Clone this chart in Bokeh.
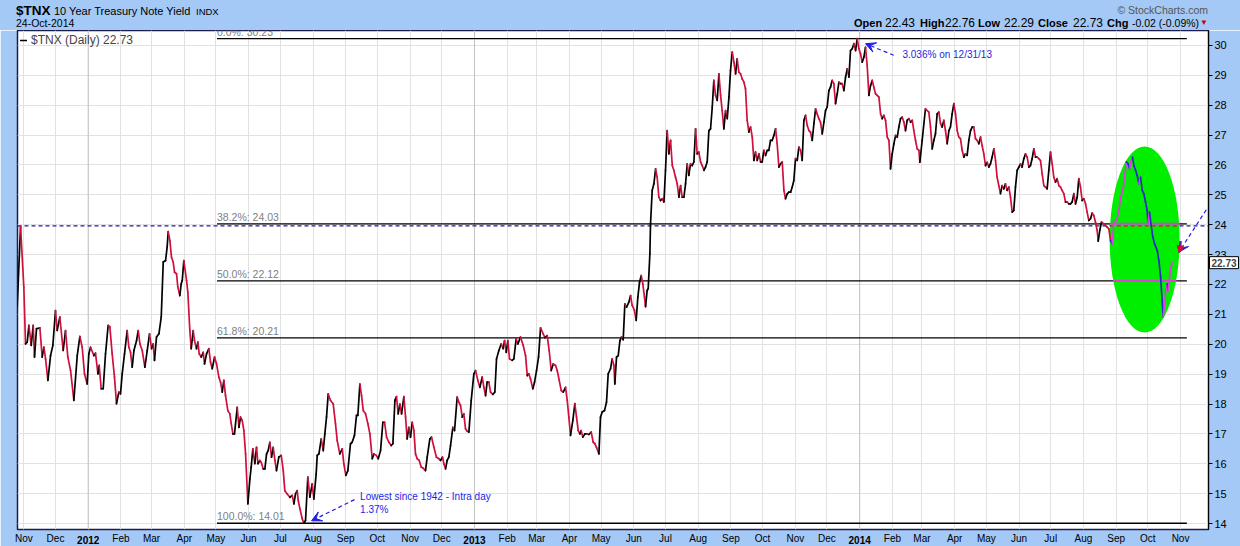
import numpy as np
import pandas as pd
from bokeh.plotting import figure
from bokeh.layouts import column
from bokeh.models import (ColumnDataSource, FixedTicker, Span, Label, Arrow, VeeHead,
                          NormalHead, Legend, LegendItem, Range1d, Div, DatetimeAxis)
from bokeh.core.properties import value
from bokeh.embed import file_html
from bokeh.resources import INLINE

# ---------------- data ----------------
DATE0 = pd.Timestamp("2011-11-01")   # day offsets are counted from this date

days_2011_12 = [-6.3, -3.1, 0.0, 1.6, 3.2, 4.8, 7.0, 8.9, 10.1, 12.0,
                15.2, 17.4, 19.0, 20.6, 22.8, 25.3, 27.5, 30.0, 31.6, 34.1,
                37.3, 39.5, 41.7, 44.3, 47.4, 50.6, 53.1, 55.3, 57.5, 60.0,
                61.6, 63.2, 66.4, 67.9, 70.2, 71.4, 73.3, 75.2, 77.4, 79.9,
                81.5, 83.7, 85.9, 87.8, 90.0, 91.6, 93.2, 95.4, 97.9, 99.5,
                101.1, 102.7, 104.3, 106.8, 108.4, 110.0, 112.2, 114.7, 116.9, 119.1,
                121.0, 122.6, 123.8, 125.7, 128.0, 130.2, 132.1, 134.3, 135.8, 136.8,
                138.4, 139.9, 141.5, 142.8, 144.7, 145.9, 147.8, 149.1, 150.1, 151.6,
                154.2, 155.4, 157.3, 158.6, 160.5, 161.7, 163.6, 164.9, 166.2, 168.1,
                170.0, 171.2, 173.1, 175.3, 176.9, 178.5, 180.7, 182.6, 184.8, 186.4,
                188.0, 189.5, 191.1, 193.3, 195.2, 196.5, 198.1, 199.6, 202.2, 203.8,
                205.3, 206.9, 208.5, 210.1, 212.3, 214.2, 215.4, 217.0, 218.9, 220.5,
                221.8, 223.6, 224.9, 226.8, 228.4, 230.0, 231.5, 233.1, 234.7, 236.3,
                237.9, 239.4, 241.6, 243.9, 245.8, 247.3, 249.6, 252.1, 254.3, 255.9,
                257.4, 259.0, 260.0, 261.6, 263.8, 265.3, 266.9, 269.1, 271.0, 273.2,
                274.8, 277.0, 278.0, 279.6, 281.8, 283.7, 285.2, 286.8, 288.4, 290.6,
                293.1, 295.3, 296.9, 299.4]
tnx_2011_12 = [21.24, 23.94, 21.91, 20.01, 20.07, 20.63, 19.96, 20.63, 19.57, 20.52,
               20.55, 19.57, 19.90, 19.51, 18.79, 19.62, 19.96, 21.13, 20.46, 20.91,
               19.79, 20.46, 19.57, 19.12, 18.12, 19.62, 20.26, 19.90, 19.01, 18.67,
               19.68, 19.90, 19.62, 19.70, 19.01, 19.29, 18.51, 18.51, 19.68, 20.63,
               20.59, 19.68, 18.90, 18.01, 18.40, 18.34, 19.01, 19.68, 20.46, 19.90,
               19.73, 19.23, 19.79, 20.12, 20.46, 20.01, 19.79, 19.23, 19.79, 20.35,
               19.85, 20.01, 19.46, 20.24, 20.35, 20.91, 22.75, 22.80, 23.25, 23.77,
               23.47, 22.91, 22.75, 22.41, 22.36, 21.91, 21.63, 22.02, 22.13, 22.80,
               22.13, 21.74, 20.46, 19.85, 20.46, 20.12, 19.85, 20.07, 19.68, 19.57,
               19.73, 19.34, 19.68, 19.85, 19.40, 19.18, 19.57, 19.34, 18.90, 18.73,
               18.40, 18.79, 18.28, 17.78, 17.67, 17.34, 17.00, 17.00, 17.89, 17.22,
               17.56, 17.45, 17.11, 16.33, 14.66, 15.49, 15.88, 16.50, 16.00, 16.55,
               16.00, 16.11, 16.05, 15.83, 15.83, 16.33, 16.44, 16.72, 16.22, 16.55,
               16.11, 15.77, 16.22, 16.28, 15.77, 15.10, 14.99, 14.88, 14.94, 14.66,
               14.99, 15.10, 14.77, 14.49, 14.16, 14.01, 14.10, 15.55, 14.88, 15.33,
               14.82, 15.66, 16.28, 16.33, 16.83, 16.44, 17.00, 17.56, 18.34, 18.12,
               18.01, 17.34, 16.78, 16.33]

days_2012_13 = [301.7, 303.2, 305.1, 307.0, 309.5, 311.1, 313.3, 315.2, 316.5, 318.4,
                320.0, 321.6, 323.8, 326.0, 327.9, 330.1, 331.7, 333.9, 335.8, 338.0,
                340.2, 341.8, 343.7, 345.9, 348.1, 349.7, 351.6, 353.1, 354.7, 356.3,
                357.9, 360.1, 361.7, 363.2, 364.8, 366.4, 368.0, 369.6, 371.1, 372.7,
                374.6, 376.5, 378.4, 380.6, 382.2, 384.7, 386.3, 388.5, 391.0, 393.3,
                394.8, 396.7, 398.0, 399.6, 401.1, 402.7, 404.3, 406.5, 408.1, 410.6,
                412.2, 413.8, 415.4, 416.9, 418.5, 420.1, 421.7, 423.9, 426.4, 428.0,
                430.2, 432.1, 434.3, 435.9, 437.5, 439.0, 440.6, 442.2, 444.4, 446.3,
                447.9, 450.1, 452.3, 454.2, 455.5, 457.1, 458.6, 460.2, 462.7, 464.3,
                466.5, 468.1, 470.6, 473.2, 475.4, 477.0, 478.5, 480.1, 482.3, 483.9,
                485.8, 487.7, 489.6, 492.1, 493.7, 495.9, 497.8, 499.7, 501.6, 503.8,
                505.4, 507.3, 509.2, 511.1, 513.3, 514.9, 516.4, 518.0, 520.2, 522.1,
                523.7, 525.3, 526.9, 528.1, 529.7, 531.6, 533.8, 535.4, 537.6, 539.5,
                541.1, 542.6, 544.9, 546.4, 548.0, 550.2, 552.1, 553.7, 555.9, 557.5,
                559.1, 560.0, 561.6, 563.2, 564.8, 566.3, 567.9, 569.5, 571.1, 573.3,
                574.9, 576.4, 578.6, 580.2, 581.8, 583.4, 585.0, 586.5, 588.1, 589.1,
                590.6, 591.6, 593.2]
tnx_2012_13 = [16.50, 16.00, 15.61, 15.77, 16.67, 16.72, 16.95, 17.62, 17.62, 18.67,
               18.28, 17.78, 17.67, 17.34, 17.00, 16.17, 16.33, 16.28, 16.17, 16.44,
               17.39, 17.39, 16.89, 16.72, 16.61, 16.67, 18.12, 18.25, 17.67, 18.00,
               17.67, 18.25, 17.56, 16.83, 17.22, 16.89, 17.39, 17.11, 16.33, 16.17,
               16.11, 15.89, 15.85, 15.77, 16.22, 16.83, 16.89, 16.56, 16.22, 16.17,
               16.11, 16.22, 16.00, 15.83, 16.11, 16.22, 16.61, 17.22, 17.11, 18.23,
               18.06, 17.95, 17.56, 17.67, 17.17, 17.09, 17.06, 18.12, 19.01, 19.12,
               18.79, 18.56, 18.90, 18.56, 18.28, 18.73, 18.73, 18.40, 18.32, 18.40,
               19.51, 19.79, 20.01, 19.85, 20.12, 19.73, 20.12, 19.51, 19.46, 19.51,
               20.18, 20.01, 20.24, 19.96, 19.62, 18.95, 19.01, 18.84, 18.51, 18.73,
               19.12, 19.57, 20.55, 20.35, 20.22, 20.29, 19.79, 19.12, 19.34, 19.29,
               19.12, 18.79, 18.45, 18.40, 18.56, 18.12, 17.56, 16.95, 17.45, 18.01,
               17.56, 17.11, 17.00, 17.11, 16.89, 17.00, 17.00, 16.98, 17.06, 16.72,
               16.67, 16.55, 16.33, 17.56, 17.73, 17.78, 18.06, 19.01, 19.18, 19.51,
               19.29, 18.67, 19.57, 19.62, 20.12, 20.24, 20.15, 21.35, 21.24, 21.41,
               21.63, 21.30, 21.13, 20.80, 21.58, 22.08, 22.30, 22.02, 21.58, 21.26,
               21.80, 21.86, 23.03]

days_2013_14 = [593.8, 595.4, 597.0, 598.6, 600.1, 601.7, 603.3, 604.9, 606.5, 608.0,
                609.6, 611.2, 612.8, 614.4, 615.9, 617.5, 619.1, 620.7, 622.3, 623.8,
                625.4, 627.0, 628.6, 630.1, 631.7, 633.3, 634.9, 636.5, 638.0, 639.6,
                641.2, 642.8, 644.4, 645.9, 647.5, 649.1, 650.7, 652.3, 653.8, 655.4,
                657.0, 658.6, 660.2, 661.7, 663.3, 664.9, 666.5, 668.1, 669.6, 671.2,
                672.8, 674.4, 675.9, 677.5, 679.1, 680.7, 682.3, 683.8, 685.4, 687.0,
                688.6, 690.2, 691.7, 693.3, 694.9, 696.5, 698.1, 699.6, 701.2, 702.8,
                704.4, 705.9, 707.5, 709.1, 710.7, 712.3, 713.8, 715.4, 717.0, 718.6,
                720.2, 721.7, 723.3, 724.9, 726.5, 728.1, 729.6, 731.2, 732.8, 734.4,
                736.0, 737.5, 739.1, 740.7, 742.3, 743.9, 745.4, 747.0, 748.6, 750.2,
                751.7, 753.3, 754.9, 756.5, 758.1, 759.6, 761.2, 762.8, 764.4, 765.9,
                767.5, 769.1, 770.7, 772.3, 773.9, 775.4, 777.0, 778.6, 780.2, 781.8,
                783.3, 784.9, 786.5, 788.1, 789.6, 791.2, 792.8, 794.4, 796.0, 797.5,
                799.1, 800.7, 802.3, 803.9, 805.4, 807.0, 808.6, 810.2, 811.8, 813.3,
                814.9, 816.5, 818.1, 819.7, 821.2, 822.8, 824.4, 826.0, 827.6, 829.1,
                830.7, 832.3, 833.9, 835.4, 837.0, 838.6, 840.2, 841.8, 843.3, 844.9,
                846.5, 848.1]
tnx_2013_14 = [24.03, 25.15, 25.37, 25.87, 25.59, 24.92, 24.81, 24.87, 24.76, 25.82,
               27.15, 26.37, 26.82, 25.98, 25.82, 25.59, 25.37, 24.92, 25.31, 24.92,
               24.92, 25.37, 26.04, 25.65, 26.04, 25.98, 26.10, 27.21, 26.37, 26.43,
               26.10, 25.98, 25.82, 25.93, 26.10, 27.15, 27.21, 27.94, 28.83, 28.33,
               28.16, 29.05, 28.33, 27.82, 27.21, 27.82, 27.55, 28.27, 29.16, 29.78,
               29.44, 29.05, 29.55, 29.11, 29.05, 28.88, 28.77, 28.55, 27.49, 27.10,
               27.27, 26.93, 26.15, 26.43, 26.15, 26.37, 26.10, 26.10, 26.49, 26.32,
               26.49, 26.49, 26.82, 26.82, 26.99, 27.21, 26.71, 25.93, 26.04, 26.10,
               25.15, 24.87, 25.03, 25.09, 25.09, 25.26, 25.48, 26.21, 26.15, 26.60,
               26.49, 26.15, 27.49, 27.66, 27.32, 27.15, 27.10, 26.82, 27.38, 27.88,
               27.71, 27.55, 27.43, 27.04, 27.43, 27.82, 27.94, 28.49, 28.61, 28.83,
               28.72, 28.05, 28.38, 28.77, 28.72, 28.72, 28.49, 28.94, 29.22, 28.94,
               29.83, 29.89, 30.06, 29.83, 30.23, 29.89, 29.72, 29.44, 29.61, 29.94,
               29.33, 28.33, 28.66, 28.83, 28.60, 28.38, 28.33, 28.27, 27.71, 27.55,
               27.66, 27.49, 26.93, 26.82, 25.87, 26.37, 26.71, 26.99, 26.93, 27.27,
               27.55, 27.60, 27.43, 27.15, 27.49, 27.55, 27.43, 27.49, 27.15, 26.82,
               26.54, 26.49]

days_2014 = [849.0, 851.2, 854.3, 857.5, 859.1, 860.7, 862.2, 863.8, 865.4, 867.0,
             868.6, 870.1, 871.7, 873.3, 874.9, 876.5, 878.0, 879.6, 881.2, 882.8,
             884.4, 885.9, 887.5, 889.1, 890.7, 892.2, 893.8, 895.4, 897.0, 898.6,
             900.1, 901.7, 903.3, 904.9, 906.5, 908.0, 909.6, 911.2, 912.8, 914.3,
             915.9, 917.5, 919.1, 920.7, 922.2, 923.8, 925.4, 927.0, 928.6, 930.1,
             931.7, 933.3, 934.9, 936.5, 938.0, 939.6, 941.2, 942.8, 944.4, 945.9,
             947.5, 949.1, 950.7, 952.3, 953.8, 955.4, 957.0, 958.6, 960.1, 961.7,
             963.3, 964.9, 966.5, 968.0, 969.6, 971.2, 972.8, 974.4, 975.9, 977.5,
             979.1, 980.7, 982.3, 983.8, 985.4, 987.0, 988.6, 990.2, 991.7, 993.3,
             994.9, 996.5, 998.1, 999.6, 1001.2, 1002.8, 1004.4, 1006.0, 1007.5, 1009.1,
             1010.7, 1012.3, 1013.8, 1015.4, 1017.0, 1018.0, 1019.5, 1021.1, 1023.3, 1024.9,
             1026.5, 1028.1,
             1029.7, 1031.3, 1032.8, 1035.4, 1037.6, 1039.2, 1041.7, 1043.3, 1044.8, 1046.4,
             1047.7, 1049.3, 1050.5, 1051.8, 1053.4, 1054.9, 1056.5, 1058.1, 1059.7, 1061.3,
             1062.8, 1064.4, 1065.1, 1066.6, 1068.2, 1069.8, 1071.4, 1073.9, 1075.5, 1077.1,
             1078.6, 1079.6, 1080.8, 1082.1, 1083.4, 1084.3, 1085.6, 1087.2, 1088.4]
tnx_2014 = [26.09, 26.82, 27.88, 27.77, 27.27, 26.54, 26.82, 27.04, 27.71, 27.77,
            27.38, 27.27, 27.49, 27.15, 26.71, 27.15, 27.27, 27.71, 28.05, 27.71,
            27.15, 26.93, 26.88, 26.49, 26.26, 26.37, 26.32, 26.82, 27.15, 27.27,
            27.27, 26.88, 26.82, 26.71, 26.93, 26.65, 26.37, 25.98, 26.09, 25.93,
            26.04, 26.26, 26.54, 26.15, 25.59, 25.31, 25.04, 25.31, 25.20, 25.37,
            25.15, 25.26, 24.92, 24.42, 24.48, 25.26, 25.82, 25.93, 26.04, 25.93,
            26.21, 26.37, 26.26, 25.93, 25.98, 26.21, 26.54, 26.26, 26.26, 26.21,
            26.15, 25.70, 25.31, 25.26, 25.20, 25.82, 26.43, 26.04, 25.59, 25.43,
            25.54, 25.31, 25.26, 25.15, 25.04, 24.76, 24.76, 24.70, 24.70, 24.76,
            25.04, 24.70, 24.92, 25.54, 25.26, 24.81, 24.87, 24.70, 24.42, 24.14,
            24.20, 24.39, 24.31, 24.09, 23.81, 23.45, 23.81, 24.09, 24.03, 23.97,
            23.92, 23.86,
            23.47, 23.36, 24.09, 24.14, 24.48, 24.92, 25.20, 25.70, 26.10, 26.04,
            25.87, 26.15, 26.26, 25.98, 25.82, 25.65, 25.37, 25.59, 25.15, 25.03,
            24.76, 24.48, 24.09, 24.42, 23.97, 23.58, 23.36, 23.14, 22.80, 22.25,
            21.46, 20.91, 21.35, 21.80, 22.02, 21.80, 22.25, 22.64, 22.73]

fib_pct = ["0.0%", "38.2%", "50.0%", "61.8%", "100.0%"]
fib_level = [30.23, 24.03, 22.12, 20.21, 14.01]
y_ticks = list(range(14, 31))
last_close = 22.73

# ---------------- styling / layout constants ----------------
BG = "#a4c9f6"
RED = "#d0103c"
MAG = "#e03ce0"
DNBLUE = "#2a2ac4"
ANNO = "#1e1ee6"
GREEN = "#00ee00"
FONT = "Liberation Sans"
FW, FH = 1191, 499

def ms(d):
    return (DATE0 + pd.Timedelta(days=d)).value / 1e6

for a, b in [(days_2011_12, tnx_2011_12), (days_2012_13, tnx_2012_13),
             (days_2013_14, tnx_2013_14), (days_2014, tnx_2014)]:
    assert len(a) == len(b), (len(a), len(b))

days = np.array(days_2011_12 + days_2012_13 + days_2013_14 + days_2014)
vals = np.array(tnx_2011_12 + tnx_2012_13 + tnx_2013_14 + tnx_2014)
dates = DATE0 + pd.to_timedelta(days, unit="D")

up = np.diff(vals) >= 0
hl = dates[:-1] >= pd.Timestamp("2014-08-26")
colors = np.where(hl, np.where(up, MAG, DNBLUE), np.where(up, "black", RED))
seg = ColumnDataSource(dict(x0=dates[:-1], x1=dates[1:], y0=vals[:-1], y1=vals[1:], c=colors))

p = figure(frame_width=FW, frame_height=FH, x_axis_type="datetime", y_axis_location="right",
           x_range=Range1d(pd.Timestamp("2011-10-26"), pd.Timestamp("2014-11-27 12:00")),
           y_range=Range1d(13.80, 30.50),
           output_backend="svg", toolbar_location=None,
           min_border_left=17, min_border_right=32, min_border_top=0, min_border_bottom=17,
           border_fill_color=BG, background_fill_color="white",
           outline_line_color="#1d1d4d", outline_line_width=1.5)

# month axis (January left blank, the year axis below fills it in bold)
month_ticks = pd.date_range("2011-11-01", "2014-11-01", freq="MS")
tick_ms = [int(t.value // 10**6) for t in month_ticks]
p.xaxis.ticker = FixedTicker(ticks=tick_ms, minor_ticks=[])
p.xaxis.major_label_overrides = {m: ("" if t.month == 1 else t.strftime("%b"))
                                 for m, t in zip(tick_ms, month_ticks)}
ax = p.xaxis[0]
ax.axis_line_color = None
ax.major_tick_out = 0
ax.major_tick_in = 0
ax.minor_tick_out = 0
ax.major_label_standoff = 3
ax.major_label_text_font = FONT
ax.major_label_text_font_size = "10px"
ax.major_label_text_color = "black"

year_ticks = [int(t.value // 10**6) for t in month_ticks if t.month == 1]
yr_axis = DatetimeAxis(ticker=FixedTicker(ticks=year_ticks, minor_ticks=[]),
                       major_label_overrides={m: str(pd.Timestamp(m, unit="ms").year) for m in year_ticks},
                       axis_line_color=None, major_tick_out=0, major_tick_in=0, minor_tick_out=0,
                       major_label_standoff=-11, major_label_text_font=FONT,
                       major_label_text_font_size="10px", major_label_text_font_style="bold",
                       major_label_text_color="black")
p.add_layout(yr_axis, "below")

p.yaxis.ticker = FixedTicker(ticks=y_ticks, minor_ticks=[])
p.yaxis.axis_line_color = "black"
p.yaxis.major_tick_out = 4
p.yaxis.major_tick_in = 0
p.yaxis.minor_tick_out = 0
p.yaxis.major_label_standoff = 2
p.yaxis.major_label_text_font = FONT
p.yaxis.major_label_text_font_size = "11px"
p.yaxis.major_label_text_color = "black"

p.xgrid.grid_line_color = "#e2e2e2"
p.ygrid.grid_line_color = "#e2e2e2"

for m in year_ticks:
    p.add_layout(Span(location=m, dimension="height", line_color="#c2c2c2",
                      line_width=1, level="underlay"))

p.add_layout(Span(location=23.96, dimension="width", line_color="#1a1ab4", line_width=1.2,
                  line_dash="4 3", level="underlay"))

# Fibonacci retracement lines
fib_src = ColumnDataSource(dict(
    x0=[pd.Timestamp("2012-05-02")] * len(fib_level),
    x1=[pd.Timestamp("2014-11-07")] * len(fib_level),
    y=fib_level,
    t=[f"{a}: {b:.2f}" for a, b in zip(fib_pct, fib_level)]))
p.segment(x0="x0", x1="x1", y0="y", y1="y", source=fib_src, line_color="black", line_width=1.3)
p.text(x="x0", y="y", text="t", source=fib_src, text_font=value(FONT), text_font_size="10.5px",
       text_color="#808080", text_baseline="bottom", y_offset=-1)

# green highlight ellipse with its marks
p.ellipse(x=[pd.Timestamp("2014-09-28")], y=[23.505], width=[66.3 * 86400000], height=[6.23],
          fill_color=GREEN, line_color=None)
p.segment(x0=[pd.Timestamp("2014-08-26"), pd.Timestamp("2014-08-29")],
          x1=[pd.Timestamp("2014-10-31"), pd.Timestamp("2014-10-28")],
          y0=[fib_level[1], fib_level[2]], y1=[fib_level[1], fib_level[2]],
          line_color=MAG, line_width=2)
p.segment(x0=[pd.Timestamp("2014-08-26")], x1=[pd.Timestamp("2014-10-31")], y0=[23.96], y1=[23.96],
          line_color="#d02020", line_width=1.2, line_dash="4 3")

# the yield line
line_r = p.segment(x0="x0", x1="x1", y0="y0", y1="y1", line_color="c", line_width=1.7,
                   line_cap="round", source=seg)

leg = Legend(items=[LegendItem(label="$TNX (Daily) 22.73", renderers=[line_r], index=0)],
             location="top_left", label_text_font=FONT, label_text_font_size="12px",
             glyph_width=7, glyph_height=12, label_height=12, label_standoff=4,
             padding=0, margin=3, spacing=0, border_line_alpha=0, background_fill_alpha=0)
p.add_layout(leg)

# annotations
p.add_layout(Arrow(x_start=ms(824.3), y_start=29.67, x_end=ms(797.5), y_end=30.06,
                   line_color=ANNO, line_width=1.2, line_dash="4 3",
                   end=VeeHead(size=10, line_color=ANNO, fill_color=ANNO, line_width=1)))
p.add_layout(Label(x=ms(832.5), y=29.70, text="3.036% on 12/31/13", text_font=FONT,
                   text_font_size="10px", text_color=ANNO, text_baseline="middle"))
p.add_layout(Arrow(x_start=ms(313.3), y_start=14.80, x_end=ms(272.6), y_end=14.09,
                   line_color=ANNO, line_width=1.2, line_dash="4 3",
                   end=VeeHead(size=10, line_color=ANNO, fill_color=ANNO, line_width=1)))
p.add_layout(Label(x=ms(318.6), y=14.91, text="Lowest since 1942 - Intra day", text_font=FONT,
                   text_font_size="10px", text_color=ANNO, text_baseline="middle"))
p.add_layout(Label(x=ms(318.6), y=14.47, text="1.37%", text_font=FONT,
                   text_font_size="10px", text_color=ANNO, text_baseline="middle"))
p.add_layout(Arrow(x_start=ms(1120.4), y_start=24.50, x_end=ms(1094.4), y_end=23.08,
                   line_color=ANNO, line_width=1.2, line_dash="4 3",
                   end=VeeHead(size=10, line_color=ANNO, fill_color=ANNO, line_width=1)))
p.add_layout(Arrow(x_start=ms(1097.0), y_start=23.45, x_end=ms(1094.8), y_end=23.05,
                   line_color=RED, line_width=1,
                   end=NormalHead(size=7, line_color=RED, fill_color=RED)))

# last value tag beside the right axis
p.add_layout(Label(x=-20, x_units="screen", y=last_close, text=f"{last_close:.2f}", text_font=FONT,
                   text_font_size="10px", text_font_style="bold", text_baseline="middle",
                   background_fill_color="white", border_line_color="black", padding=2), "right")

# header
def span(left, top, text, size, bold=False, color="black"):
    w = "bold" if bold else "normal"
    return (f'<span style="position:absolute;left:{left}px;top:{top}px;font-size:{size}px;'
            f'font-weight:{w};color:{color};line-height:1;white-space:nowrap;">{text}</span>')

parts = [
    span(16, 4, "$TNX", 13.5, True),
    span(54, 6, "10 Year Treasury Note Yield", 11),
    span(196, 7, "INDX", 9.5),
    span(16, 18, "24-Oct-2014", 10.5),
    span(854, 18, "Open", 11, True), span(885, 17, "22.43", 12),
    span(920, 18, "High", 11, True), span(945, 17, "22.76", 12),
    span(978, 18, "Low", 11, True), span(1004, 17, "22.29", 12),
    span(1038, 18, "Close", 11, True), span(1073, 17, "22.73", 12),
    span(1107, 18, "Chg", 11, True), span(1132, 18, "-0.02 (-0.09%)", 10.5),
    span(1200, 19, "\u25bc", 8, color="#cc0000"),
    (f'<span style="position:absolute;right:32px;top:5px;font-size:10.5px;color:#555555;'
     f'line-height:1;white-space:nowrap;">\u00a9 StockCharts.com</span>'),
]
header = Div(width=1240, height=30,
             text=(f'<div style="position:relative;width:1240px;height:30px;'
                   f"font-family:'{FONT}';\">" + "".join(parts) + "</div>"),
             styles={"background-color": BG, "margin": "0", "padding": "0"})

layout = column(header, p, spacing=0)
open("out.html", "w").write(file_html(layout, INLINE))
